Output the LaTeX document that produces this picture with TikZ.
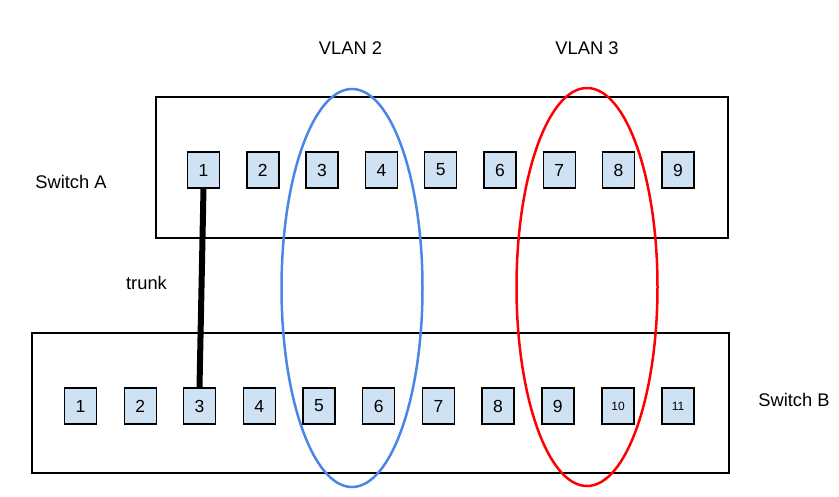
\documentclass[tikz,border=0pt]{standalone}
\usepackage{fontspec}
\setmainfont{Liberation Sans}
\usepackage{xcolor}
\usetikzlibrary{shapes.geometric, positioning}
\definecolor{portfill}{HTML}{CFE2F3}
\definecolor{vlanblue}{HTML}{4A86E8}
\definecolor{vlanred}{HTML}{FF0000}

\begin{document}
\begin{tikzpicture}[x=1pt, y=-1pt,
    box/.style = {draw, line width=1.3pt, inner sep=0pt},
    port/.style = {draw, line width=1.4pt, fill=portfill, minimum width=32pt, minimum height=36pt, inner sep=0pt, font=\fontsize{17.5}{20}\selectfont},
    smallport/.style = {port, font=\fontsize{12}{14}\selectfont},
    vlan/.style = {draw, ellipse, line width=2.5pt, minimum width=141pt, minimum height=398pt, inner sep=0pt},
    lbl/.style = {font=\fontsize{18.3}{21}\selectfont}]
    \useasboundingbox (0,0) rectangle (839,496);
    \node[box, minimum width=572pt, minimum height=141pt] (swA) at (442, 167.5) {};
    \node[box, minimum width=697pt, minimum height=140pt] (swB) at (380.5, 403) {};
    \node[lbl] (labA) at (71, 182) {Switch A};
    \node[lbl] (labB) at (794, 400) {Switch B};
    \node[lbl] (vl2) at (350.5, 48) {VLAN 2};
    \node[lbl] (vl3) at (587, 48) {VLAN 3};
    \node[lbl] (trk) at (146.5, 283) {trunk};
    % switch A
    \node[port] (a1) at (203.5, 170) {1};
    \node[port] (a2) at (262.8, 170) {2};
    \node[port] (a3) at (322.1, 170) {3};
    \node[port] (a4) at (381.4, 170) {4};
    \node[port] (a5) at (440.7, 170) {5};
    \node[port] (a6) at (500, 170) {6};
    \node[port] (a7) at (559.3, 170) {7};
    \node[port] (a8) at (618.6, 170) {8};
    \node[port] (a9) at (678, 170) {9};
    % switch B
    \node[port] (b1) at (80.5, 406) {1};
    \node[port] (b2) at (140.2, 406) {2};
    \node[port] (b3) at (199.5, 406) {3};
    \node[port] (b4) at (259.3, 406) {4};
    \node[port] (b5) at (319, 406) {5};
    \node[port] (b6) at (378.7, 406) {6};
    \node[port] (b7) at (438.4, 406) {7};
    \node[port] (b8) at (498.1, 406) {8};
    \node[port] (b9) at (557.8, 406) {9};
    \node[smallport] (b10) at (618, 406) {10};
    \node[smallport] (b11) at (678, 406) {11};
    \draw[line width=6pt] (a1.south) -- (b3.north);
    \node[vlan, draw=vlanblue] (vlan2) at (352, 288) {};
    \node[vlan, draw=vlanred] (vlan3) at (587, 287) {};
\end{tikzpicture}
\end{document}
